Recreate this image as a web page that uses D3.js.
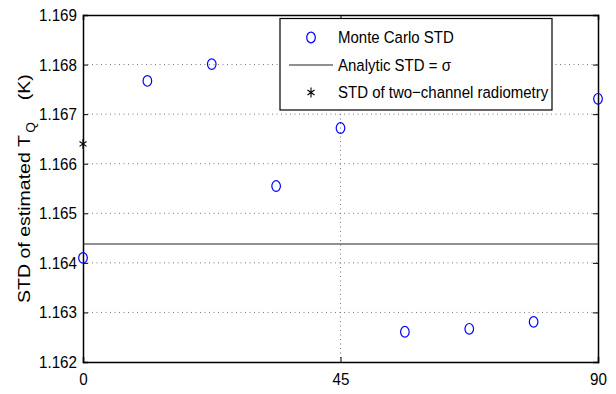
<!DOCTYPE html>
<html>
<head>
<meta charset="utf-8">
<script src="https://cdn.jsdelivr.net/npm/d3@7"></script>
<style>
  body { margin: 0; background: #fff; }
  text { font-family: "Liberation Sans", Arial, sans-serif; }
</style>
</head>
<body>
<div class="chart"></div>
<script>
// data
const angles = [0, 11.25, 22.5, 33.75, 45, 56.25, 67.5, 78.75, 90];
const monteCarloStd = [1.16410, 1.16767, 1.16801, 1.16555, 1.16672, 1.16261, 1.16267, 1.16281, 1.16731];
const analyticStd = 1.16438;
const twoChannel = [{ angle: 0, value: 1.16640 }];
const xTicks = [0, 45, 90];
const yTicks = [1.162, 1.163, 1.164, 1.165, 1.166, 1.167, 1.168, 1.169];
const legendLabels = ["Monte Carlo STD", "Analytic STD = \u03c3", "STD of two\u2212channel radiometry"];

const margin = { top: 15, right: 18, bottom: 32, left: 83 };
const width = 616 - margin.left - margin.right,
  height = 394 - margin.top - margin.bottom;

const root = d3.select(".chart").append("svg")
  .attr("width", 616)
  .attr("height", 394);
const svg = root.append("g")
  .attr("transform", "translate(" + margin.left + "," + margin.top + ")");

const xScale = d3.scaleLinear().domain([0, 90]).range([0, width]);
const yScale = d3.scaleLinear().domain([1.162, 1.169]).range([height, 0]);

// dotted grid
svg.append("g").selectAll("line")
  .data(yTicks.slice(1, -1))
  .join("line")
  .attr("x1", 0).attr("x2", width)
  .attr("y1", d => yScale(d)).attr("y2", d => yScale(d))
  .attr("stroke", "#777").attr("stroke-width", 1)
  .attr("stroke-dasharray", "1,3.5");

svg.append("g").selectAll("line")
  .data(xTicks.slice(1, -1))
  .join("line")
  .attr("x1", d => xScale(d)).attr("x2", d => xScale(d))
  .attr("y1", 0).attr("y2", height)
  .attr("stroke", "#777").attr("stroke-width", 1)
  .attr("stroke-dasharray", "1,3.5");

// axes (ticks pointing inward)
const xAxis = d3.axisBottom(xScale).tickValues(xTicks).tickSize(-5).tickPadding(12).tickFormat(d3.format("d"));
const yAxis = d3.axisLeft(yScale).tickValues(yTicks).tickSize(-5).tickPadding(6).tickFormat(d3.format(".3f"));

const gx = svg.append("g").attr("transform", `translate(0, ${height})`).call(xAxis);
const gy = svg.append("g").call(yAxis);
const gxTop = svg.append("g").call(d3.axisTop(xScale).tickValues(xTicks).tickSize(-5).tickFormat(""));
const gyRight = svg.append("g").attr("transform", `translate(${width}, 0)`)
  .call(d3.axisRight(yScale).tickValues(yTicks).tickSize(-5).tickFormat(""));

[gx, gy, gxTop, gyRight].forEach(g => {
  g.select(".domain").attr("stroke", "#000").attr("stroke-width", 1.5);
  g.selectAll(".tick line").attr("stroke", "#000").attr("stroke-width", 1);
  g.selectAll("text").attr("font-size", "15.2px").attr("fill", "#000")
    .attr("transform", "scale(1,1.12)")
    .style("font-family", "'Liberation Sans', Arial, sans-serif");
});
gx.selectAll("text").attr("dy", "0.55em");

// analytic line
svg.append("line")
  .attr("x1", xScale(0)).attr("x2", xScale(90))
  .attr("y1", yScale(analyticStd)).attr("y2", yScale(analyticStd))
  .attr("stroke", "#222").attr("stroke-width", 1.2);

// Monte Carlo circles
svg.selectAll("ellipse.mc")
  .data(angles.map((a, i) => ({ angle: a, value: monteCarloStd[i] })))
  .join("ellipse")
  .attr("class", "mc")
  .attr("cx", d => xScale(d.angle))
  .attr("cy", d => yScale(d.value))
  .attr("rx", 4.3).attr("ry", 5.3)
  .attr("fill", "none").attr("stroke", "#0000ff").attr("stroke-width", 1.2);

// asterisk marker
function star(s) {
  const d = s * 0.7;
  return `M0,${-s}L0,${s}M${-d},${-d * 0.7}L${d},${d * 0.7}M${-d},${d * 0.7}L${d},${-d * 0.7}`;
}
svg.selectAll("path.star")
  .data(twoChannel)
  .join("path")
  .attr("class", "star")
  .attr("transform", d => `translate(${xScale(d.angle)},${yScale(d.value)})`)
  .attr("d", star(5))
  .attr("stroke", "#000").attr("stroke-width", 1.1).attr("fill", "none");

// y-axis title
const yTitle = root.append("text")
  .attr("transform", "translate(30, 303) rotate(-90) scale(1.15,1)")
  .attr("font-size", "17px");
yTitle.append("tspan").text("STD of estimated T");
yTitle.append("tspan").attr("dx", 2).attr("dy", 5).attr("font-size", "12px").text("Q");
yTitle.append("tspan").attr("dx", 19).attr("dy", -5).text("(K)");

// legend
const legend = svg.append("g").attr("transform", `translate(${280 - margin.left}, ${18.5 - margin.top})`);
legend.append("rect")
  .attr("width", 272).attr("height", 91.5)
  .attr("fill", "#fff").attr("stroke", "#000").attr("stroke-width", 1.2);

const rows = legend.selectAll("g.row")
  .data(legendLabels)
  .join("g")
  .attr("class", "row")
  .attr("transform", (d, i) => `translate(0, ${19 + i * 27.5})`);

rows.append("text")
  .attr("x", 58).attr("y", 0).attr("dy", "0.35em")
  .attr("font-size", "15px")
  .attr("transform", "scale(1,1.12)")
  .text(d => d);

rows.filter((d, i) => i === 0).append("ellipse")
  .attr("cx", 31).attr("cy", 0).attr("rx", 4.3).attr("ry", 5.3)
  .attr("fill", "none").attr("stroke", "#0000ff").attr("stroke-width", 1.2);
rows.filter((d, i) => i === 1).append("line")
  .attr("x1", 9).attr("x2", 53).attr("y1", 0).attr("y2", 0)
  .attr("stroke", "#222").attr("stroke-width", 1.2);
rows.filter((d, i) => i === 2).append("path")
  .attr("transform", "translate(31,0)")
  .attr("d", star(5))
  .attr("stroke", "#000").attr("stroke-width", 1.1).attr("fill", "none");
</script>
</body>
</html>
